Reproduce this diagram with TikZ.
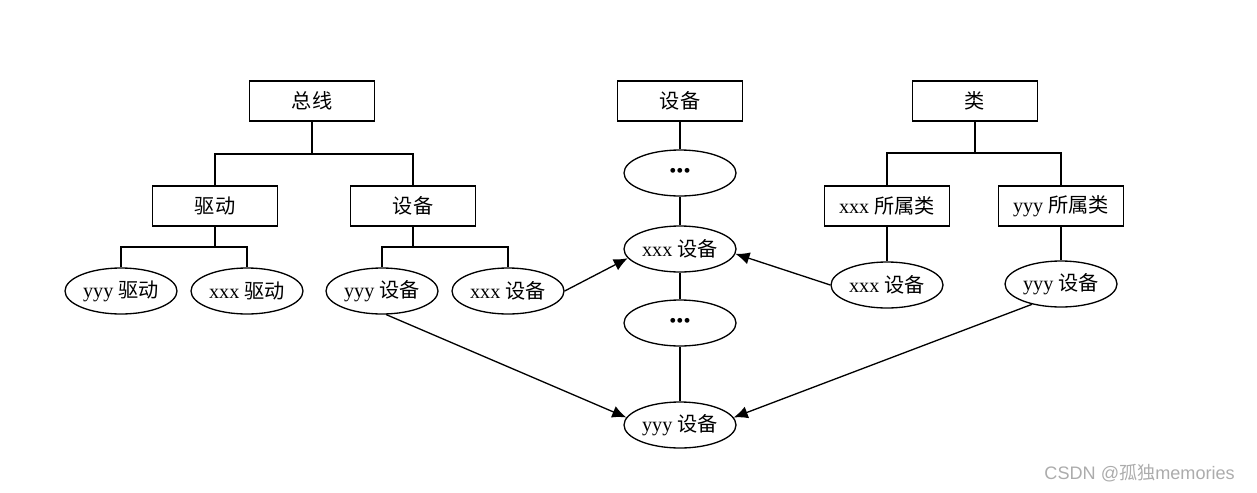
\documentclass[tikz,border=0pt]{standalone}
\usepackage{fontspec}
\setmainfont{Liberation Serif}
\newfontfamily\cjk{Noto Sans CJK SC}
\newfontfamily\wmfont{Liberation Sans}
\usetikzlibrary{shapes.geometric, arrows.meta}

\begin{document}
\begin{tikzpicture}[
    box/.style={rectangle, draw, line width=0.75pt, minimum width=2.5cm, minimum height=0.8cm, inner sep=0pt},
    oval/.style={ellipse, draw, line width=0.75pt, minimum width=2.24cm, minimum height=0.92cm, inner sep=0pt},
    link/.style={line width=0.75pt},
    arr/.style={line width=0.75pt, -{Latex[length=8pt, width=7pt]}},
    font=\fontsize{11.5}{14}\selectfont
]
    \useasboundingbox (0,0) rectangle (25.14,-9.84);

    % Bus
    \node[box] (bus) at (6.24,-2.02) {\cjk 总线};
    \node[box] (drv) at (4.30,-4.12) {\cjk 驱动};
    \node[box] (dev) at (8.26,-4.12) {\cjk 设备};
    \coordinate (busj) at (6.24,-3.08);
    \draw[link] (bus) -- (busj);
    \draw[link] (drv) |- (busj) -| (dev);

    \node[oval] (ydrv) at (2.42,-5.82) {yyy {\cjk 驱动}};
    \node[oval] (xdrv) at (4.94,-5.82) {xxx {\cjk 驱动}};
    \coordinate (drvj) at (4.30,-4.94);
    \draw[link] (drv) -- (drvj);
    \draw[link] (ydrv) |- (drvj) -| (xdrv);

    \node[oval] (ldevy) at (7.64,-5.82) {yyy {\cjk 设备}};
    \node[oval] (ldevx) at (10.16,-5.82) {xxx {\cjk 设备}};
    \coordinate (devj) at (8.26,-4.94);
    \draw[link] (dev) -- (devj);
    \draw[link] (ldevy) |- (devj) -| (ldevx);

    % Devices
    \node[box] (cdev) at (13.60,-2.02) {\cjk 设备};
    \node[oval] (dots1) at (13.60,-3.46) {\textbullet\textbullet\textbullet};
    \node[oval] (cdevx) at (13.60,-4.98) {xxx {\cjk 设备}};
    \node[oval] (dots2) at (13.60,-6.46) {\textbullet\textbullet\textbullet};
    \node[oval] (cdevy) at (13.60,-8.50) {yyy {\cjk 设备}};
    \draw[link] (cdev) -- (dots1) -- (cdevx) -- (dots2) -- (cdevy);

    % Classes
    \node[box] (cls) at (19.50,-2.02) {\cjk 类};
    \node[box] (clsx) at (17.74,-4.12) {xxx {\cjk 所属类}};
    \node[box] (clsy) at (21.22,-4.12) {yyy {\cjk 所属类}};
    \coordinate (clsj) at (19.50,-3.06);
    \draw[link] (cls) -- (clsj);
    \draw[link] (clsx) |- (clsj) -| (clsy);

    \node[oval] (rdevx) at (17.74,-5.70) {xxx {\cjk 设备}};
    \node[oval] (rdevy) at (21.22,-5.68) {yyy {\cjk 设备}};
    \draw[link] (clsx) -- (rdevx);
    \draw[link] (clsy) -- (rdevy);

    % Links
    \draw[arr] (ldevx.east) -- (cdevx.190);
    \draw[arr] (rdevx.west) -- (cdevx.355);
    \draw[arr] (ldevy.280) -- (cdevy.172);
    \draw[arr] (rdevy.215) -- (cdevy.8);

    \node[anchor=east, text=gray!65, font=\fontsize{10.3}{12}\selectfont] (mark) at (24.82,-9.46) {\wmfont CSDN @{\cjk 孤独}memories};
\end{tikzpicture}
\end{document}
